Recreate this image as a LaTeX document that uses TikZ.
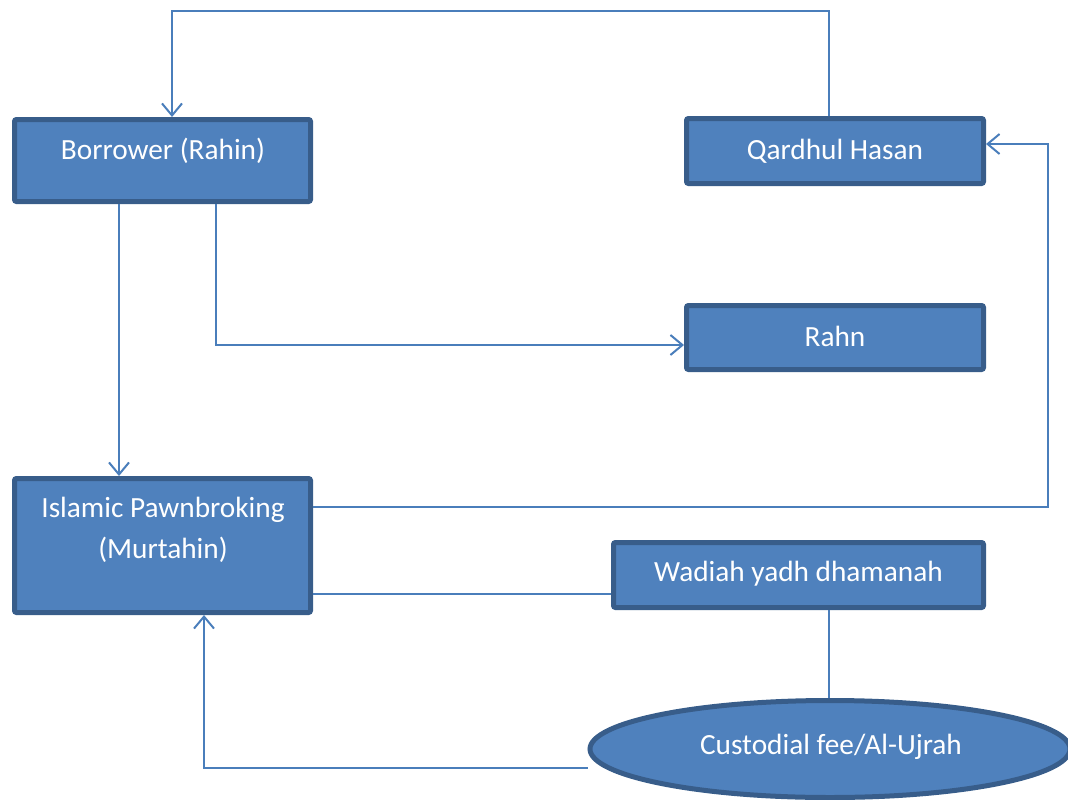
\documentclass[tikz,border=0pt]{standalone}
\usepackage{fontspec}
\setmainfont{Carlito}
\usetikzlibrary{arrows.meta,shapes.geometric}
\definecolor{boxfill}{HTML}{4F81BD}
\definecolor{boxline}{HTML}{385D8A}
\definecolor{connline}{HTML}{4A7EBB}
\begin{document}
\begin{tikzpicture}[x=1pt,y=-1pt,
  box/.style={draw=boxline,fill=boxfill,line width=5pt,rounded corners=2pt,inner sep=0pt},
  oval/.style={ellipse,draw=boxline,fill=boxfill,line width=5pt,inner sep=0pt},
  txt/.style={text=white,font=\fontsize{29.3}{41}\selectfont,align=center,inner sep=0pt},
  conn/.style={draw=connline,line width=2pt},
  arr/.style={conn,-{Straight Barb[length=12pt,width=20pt,line width=2pt]}}]
\useasboundingbox (0,0) rectangle (1068,800);
% boxes
\node[box,minimum width=296pt,minimum height=82pt] (b) at (162.5,160.5) {};
\node[box,minimum width=297pt,minimum height=65pt] (q) at (835,151) {};
\node[box,minimum width=297pt,minimum height=64pt] (r) at (835,337.5) {};
\node[box,minimum width=296pt,minimum height=134pt] (p) at (162.5,545.5) {};
\node[box,minimum width=370pt,minimum height=65pt] (w) at (798.5,575) {};
\node[oval,minimum width=480pt,minimum height=97pt] (c) at (830,749) {};
% texts
\node[txt] (bt) at (163,151) {Borrower (Rahin)};
\node[txt] (qt) at (835,151) {Qardhul Hasan};
\node[txt] (rt) at (835,336) {Rahn};
\node[txt] (pt) at (163,530) {Islamic Pawnbroking\\(Murtahin)};
\node[txt] (wt) at (798.5,574) {Wadiah yadh dhamanah};
\node[txt] (ct) at (831,747) {Custodial fee/Al-Ujrah};
% routing points
\coordinate (t1) at (829,11);
\coordinate (t2) at (172,11);
\coordinate (d1) at (119,0);
\coordinate (d2) at (216,345);
\coordinate (e1) at (1048,507);
\coordinate (e2) at (1048,144);
\coordinate (f1) at (0,594);
\coordinate (g1) at (204,768);
% connectors
\draw[arr] (q.north -| t1) -- (t1) -- (t2) -- (b.north -| t2);
\draw[arr] (b.south -| d1) -- (p.north -| d1);
\draw[arr] (b.south -| d2) -- (d2) -- (r.west |- d2);
\draw[arr] (p.east |- e1) -- (e1) -- (e2) -- (q.east |- e2);
\draw[conn] (p.east |- f1) -- (w.west |- f1);
\draw[conn] (w.south -| t1) -- (c.north -| t1);
\draw[arr] (c.west |- g1) -- (g1) -- (p.south -| g1);
\end{tikzpicture}
\end{document}
